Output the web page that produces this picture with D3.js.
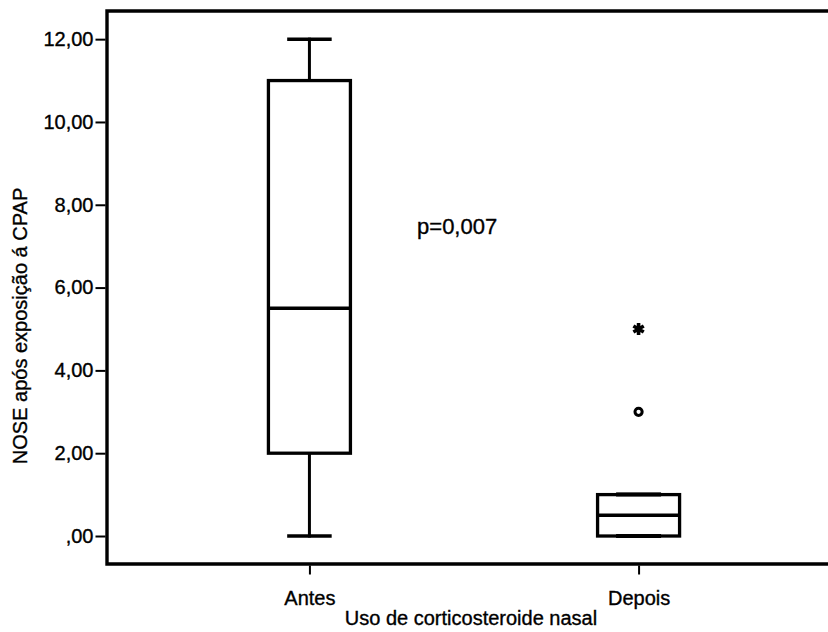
<!DOCTYPE html>
<html>
<head>
<meta charset="utf-8">
<script src="https://cdn.jsdelivr.net/npm/d3@7"></script>
<style>
  html, body { margin: 0; padding: 0; background: #fff; }
  svg { display: block; }
  text { font-family: "Liberation Sans", Arial, Helvetica, sans-serif; fill: #000; stroke: #000; stroke-width: 0.35px; }
</style>
</head>
<body>
<svg id="chart" width="828" height="632"></svg>
<script>
// ---- data ----
const categories = ["Antes", "Depois"];
const whiskerLow  = [0, 0];
const q1Values    = [2, 0];
const medians     = [5.5, 0.5];
const q3Values    = [11, 1];
const whiskerHigh = [12, 1];
const outlierCircleValues = [null, 3];
const extremeStarValues   = [null, 5];
const yTicks = [0, 2, 4, 6, 8, 10, 12];
const yTitle = "NOSE após exposição á CPAP";
const xTitle = "Uso de corticosteroide nasal";
const annotation = "p=0,007";

// ---- layout ----
const svg = d3.select("#chart");
const frame = { left: 107, top: 11, right: 841, bottom: 564 };

const y = d3.scaleLinear().domain([-0.676, 12.68]).range([frame.bottom, frame.top]);
const x = d3.scalePoint().domain(categories).range([frame.left, frame.right]).padding(0.615);

const boxW = 82, capW = 41;
const fmt = v => v === 0 ? ",00" : d3.format(".2f")(v).replace(".", ",");

// frame (left, top, bottom lines)
svg.append("path")
  .attr("d", `M${frame.right},${frame.top}H${frame.left}V${frame.bottom}H${frame.right}`)
  .attr("fill", "none").attr("stroke", "#000").attr("stroke-width", 3.4);

// y axis
const yAxis = d3.axisLeft(y).tickValues(yTicks).tickFormat(fmt).tickSize(10).tickPadding(2);
const gy = svg.append("g").attr("transform", `translate(${frame.left - 1.5},0)`).call(yAxis);
gy.select(".domain").remove();
gy.selectAll(".tick line").attr("stroke", "#000").attr("stroke-width", 2);
gy.selectAll(".tick text").attr("font-size", 20).attr("font-family", "Liberation Sans, Arial, sans-serif").attr("fill", "#000");

// x axis
const xAxis = d3.axisBottom(x).tickSize(9).tickPadding(16);
const gx = svg.append("g").attr("transform", `translate(0,${frame.bottom + 1.5})`).call(xAxis);
gx.select(".domain").remove();
gx.selectAll(".tick line").attr("stroke", "#000").attr("stroke-width", 2);
gx.selectAll(".tick text").attr("font-size", 20).attr("font-family", "Liberation Sans, Arial, sans-serif").attr("fill", "#000");

// boxes
const g = svg.append("g");
categories.forEach((c, i) => {
  const cx = x(c);
  const line = (x1, y1, x2, y2, w) => g.append("line")
    .attr("x1", x1).attr("y1", y1).attr("x2", x2).attr("y2", y2)
    .attr("stroke", "#000").attr("stroke-width", w).attr("stroke-linecap", "square");
  // whiskers
  line(cx, y(q3Values[i]), cx, y(whiskerHigh[i]), 3);
  line(cx, y(q1Values[i]), cx, y(whiskerLow[i]), 3);
  line(cx - capW / 2, y(whiskerHigh[i]), cx + capW / 2, y(whiskerHigh[i]), 3.5);
  line(cx - capW / 2, y(whiskerLow[i]), cx + capW / 2, y(whiskerLow[i]), 3.5);
  // box
  g.append("rect")
    .attr("x", cx - boxW / 2).attr("width", boxW)
    .attr("y", y(q3Values[i])).attr("height", y(q1Values[i]) - y(q3Values[i]))
    .attr("fill", "#fff").attr("stroke", "#000").attr("stroke-width", 3.3);
  // redraw caps that coincide with the box edges
  if (whiskerHigh[i] === q3Values[i]) line(cx - capW / 2, y(whiskerHigh[i]), cx + capW / 2, y(whiskerHigh[i]), 4);
  if (whiskerLow[i] === q1Values[i]) line(cx - capW / 2, y(whiskerLow[i]), cx + capW / 2, y(whiskerLow[i]), 4);
  // median
  line(cx - boxW / 2, y(medians[i]), cx + boxW / 2, y(medians[i]), 3.6).attr("stroke-linecap", "butt");
  // outliers
  if (outlierCircleValues[i] != null) {
    g.append("circle").attr("cx", cx).attr("cy", y(outlierCircleValues[i])).attr("r", 3.6)
      .attr("fill", "#fff").attr("stroke", "#000").attr("stroke-width", 3);
  }
  if (extremeStarValues[i] != null) {
    g.append("path")
      .attr("d", d3.symbol(d3.symbolAsterisk, 100)())
      .attr("transform", `translate(${cx},${y(extremeStarValues[i])})`)
      .attr("fill", "none").attr("stroke", "#000").attr("stroke-width", 3.6);
  }
});

// annotation
svg.append("text")
  .attr("x", x(categories[0]) + (x(categories[1]) - x(categories[0])) * 0.327)
  .attr("y", y(7.3))
  .attr("font-size", 22)
  .text(annotation);

// axis titles
svg.append("text")
  .attr("x", (frame.left + frame.right) / 2 - 3)
  .attr("y", 625)
  .attr("text-anchor", "middle")
  .attr("font-size", 20)
  .text(xTitle);

svg.append("text")
  .attr("transform", `translate(27,326) rotate(-90)`)
  .attr("text-anchor", "middle")
  .attr("font-size", 20)
  .text(yTitle);
</script>
</body>
</html>
